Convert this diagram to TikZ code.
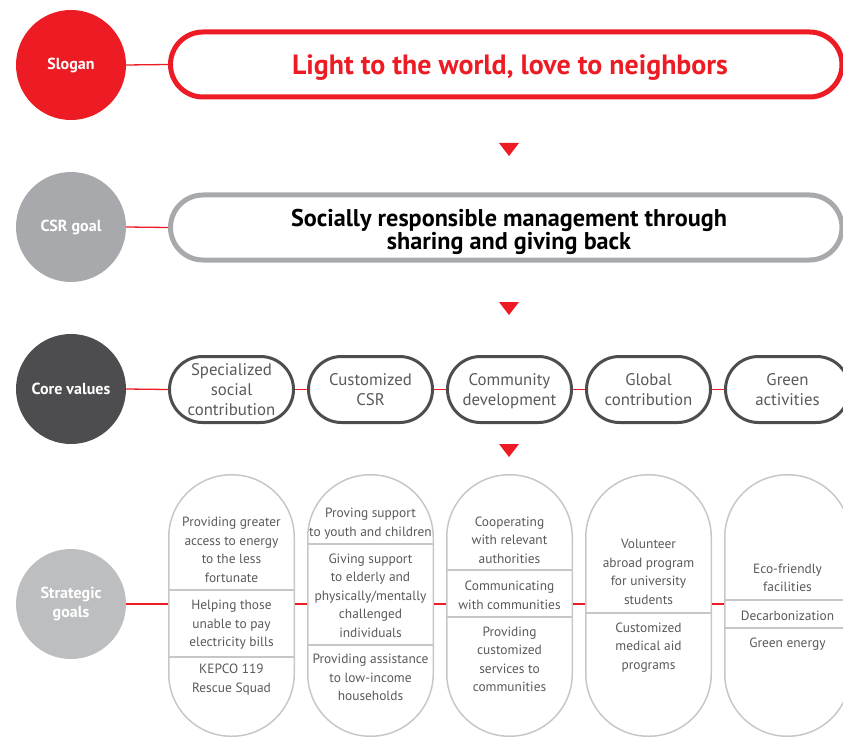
\documentclass[tikz,border=0pt]{standalone}
\usepackage{fontspec}
\setmainfont{PT Sans}
\definecolor{kred}{HTML}{ED1C24}
\definecolor{csrgray}{HTML}{A7A9AC}
\definecolor{coregray}{HTML}{4D4D4F}
\definecolor{strgray}{HTML}{BCBEC0}
\definecolor{txtgray}{HTML}{58595B}
\definecolor{linegray}{HTML}{C6C7C9}
% lets two heavy lines sit closer than their glyphs would normally allow
\newcommand\tightlines{\lineskiplimit=-20pt\relax}
\begin{document}
\begin{tikzpicture}[x=1pt,y=-1pt,
  badge/.style={circle,minimum size=110pt,inner sep=0pt,text=white,align=center,
    font=\bfseries\fontsize{16}{19.5}\selectfont},
  headbox/.style={rectangle,rounded corners=32.5pt,line width=5pt,minimum width=671.5pt,
    minimum height=65pt,inner sep=0pt},
  headtext/.style={inner sep=0pt,align=center},
  valuebox/.style={rectangle,rounded corners=33pt,draw=coregray,line width=3pt,
    minimum width=124pt,minimum height=66pt,inner sep=0pt},
  valuetext/.style={inner sep=0pt,align=center,text=txtgray,yshift=-3pt,
    font=\fontsize{16.8}{20}\selectfont,
    execute at begin node=\strut,execute at end node=\strut},
  goalbox/.style={rectangle,rounded corners=62.5pt,draw=linegray,line width=1.5pt,
    minimum width=125.5pt,minimum height=261.5pt,inner sep=0pt},
  goaltext/.style={inner sep=0pt,align=center,text=txtgray,yshift=-3pt,
    font=\fontsize{13.4}{18.5}\selectfont,
    execute at begin node=\strut,execute at end node=\strut},
  link/.style={draw=kred,line width=1.3pt},
  divider/.style={draw=linegray,line width=1.5pt},
  pointer/.style={fill=kred}]
\useasboundingbox (0,0) rectangle (843,746);
\clip (0,0) rectangle (843,746);

% Slogan row
\node[badge,fill=kred] (slogan) at (71,65) {\raisebox{-3.5pt}{Slogan}};
\node[headbox,draw=kred] (sloganbox) at (506.25,64.5) {};
\node[headtext,text=kred,font=\bfseries\fontsize{27.9}{30}\selectfont]
  (slogantext) at (510,67.5) {Light to the world, love to neighbors};
\draw[link] (slogan.east) -- (sloganbox.west);
\fill[pointer] (499,143) -- (519,143) -- (509,156) -- cycle;

% CSR goal row
\node[badge,fill=csrgray] (csr) at (71,227) {\raisebox{-2.5pt}{CSR goal}};
\node[headbox,draw=csrgray] (csrbox) at (506.25,227.5) {};
\node[headtext,text=black,font=\bfseries\fontsize{24.2}{22.5}\selectfont\tightlines]
  (csrtext) at (509,232) {Socially responsible management through\\sharing and giving back};
\draw[link] (csr.east) -- (csrbox.west);
\fill[pointer] (499,302) -- (519,302) -- (509,315) -- cycle;

% Core values row
\node[badge,fill=coregray] (core) at (71,389) {Core values};
\node[valuebox] (v1) at (231.5,389.5) {};
\node[valuebox] (v2) at (370.5,389.5) {};
\node[valuebox] (v3) at (509.5,389.5) {};
\node[valuebox] (v4) at (648.5,389.5) {};
\node[valuebox] (v5) at (787.5,389.5) {};
\draw[link] (core.east) -- (v1.west);
\draw[link] (v1.east) -- (v2.west);
\draw[link] (v2.east) -- (v3.west);
\draw[link] (v3.east) -- (v4.west);
\draw[link] (v4.east) -- (v5.west);
\node[valuetext] (v1t) at (v1) {Specialized\\social\\contribution};
\node[valuetext] (v2t) at (v2) {Customized\\CSR};
\node[valuetext] (v3t) at (v3) {Community\\development};
\node[valuetext] (v4t) at (v4) {Global\\contribution};
\node[valuetext] (v5t) at (v5) {Green\\activities};
\fill[pointer] (499,444) -- (519,444) -- (509,457) -- cycle;

% Strategic goals row
\node[badge,fill=strgray] (goals) at (71,604) {\raisebox{-2.5pt}{\parbox{80pt}{\centering Strategic\\goals}}};
\node[goalbox] (g1) at (231.5,605.5) {};
\node[goalbox] (g2) at (370.5,605.5) {};
\node[goalbox] (g3) at (509.5,605.5) {};
\node[goalbox] (g4) at (648.5,605.5) {};
\node[goalbox] (g5) at (787.5,605.5) {};
\draw[link] (goals.east) -- (goals.east -| g1.west);
\draw[link] (g1.east |- goals) -- (g2.west |- goals);
\draw[link] (g2.east |- goals) -- (g3.west |- goals);
\draw[link] (g3.east |- goals) -- (g4.west |- goals);
\draw[link] (g4.east |- goals) -- (g5.west |- goals);

% section dividers inside the goal capsules
\draw[divider] (g1.west |- 0,590) -- (g1.east |- 0,590);
\draw[divider] (g1.west |- 0,657) -- (g1.east |- 0,657);
\draw[divider] (g2.west |- 0,544) -- (g2.east |- 0,544);
\draw[divider] (g2.west |- 0,645) -- (g2.east |- 0,645);
\draw[divider] (g3.west |- 0,570) -- (g3.east |- 0,570);
\draw[divider] (g3.west |- 0,617) -- (g3.east |- 0,617);
\draw[divider] (g4.west |- 0,613) -- (g4.east |- 0,613);
\draw[divider] (g5.west |- 0,600) -- (g5.east |- 0,600);
\draw[divider] (g5.west |- 0,628) -- (g5.east |- 0,628);

% goal texts
\node[goaltext] (t11) at (231.5,549.5) {Providing greater\\access to energy\\to the less\\fortunate};
\node[goaltext] (t12) at (231.5,623.5) {Helping those\\unable to pay\\electricity bills};
\node[goaltext] (t13) at (231.5,678) {KEPCO 119\\Rescue Squad};
\node[goaltext] (t21) at (370.5,522) {Proving support\\to youth and children};
\node[goaltext] (t22) at (370.5,595) {Giving support\\to elderly and\\physically/mentally\\challenged\\individuals};
\node[goaltext] (t23) at (370.5,677.5) {Providing assistance\\to low-income\\households};
\node[goaltext] (t31) at (509.5,540) {Cooperating\\with relevant\\authorities};
\node[goaltext] (t32) at (509.5,595) {Communicating\\with communities};
\node[goaltext] (t33) at (509.5,659) {Providing\\customized\\services to\\communities};
\node[goaltext] (t41) at (648.5,571.5) {Volunteer\\abroad program\\for university\\students};
\node[goaltext] (t42) at (648.5,645.5) {Customized\\medical aid\\programs};
\node[goaltext] (t51) at (787.5,577.5) {Eco-friendly\\facilities};
\node[goaltext] (t52) at (787.5,614) {Decarbonization};
\node[goaltext] (t53) at (787.5,641) {Green energy};
\end{tikzpicture}
\end{document}
